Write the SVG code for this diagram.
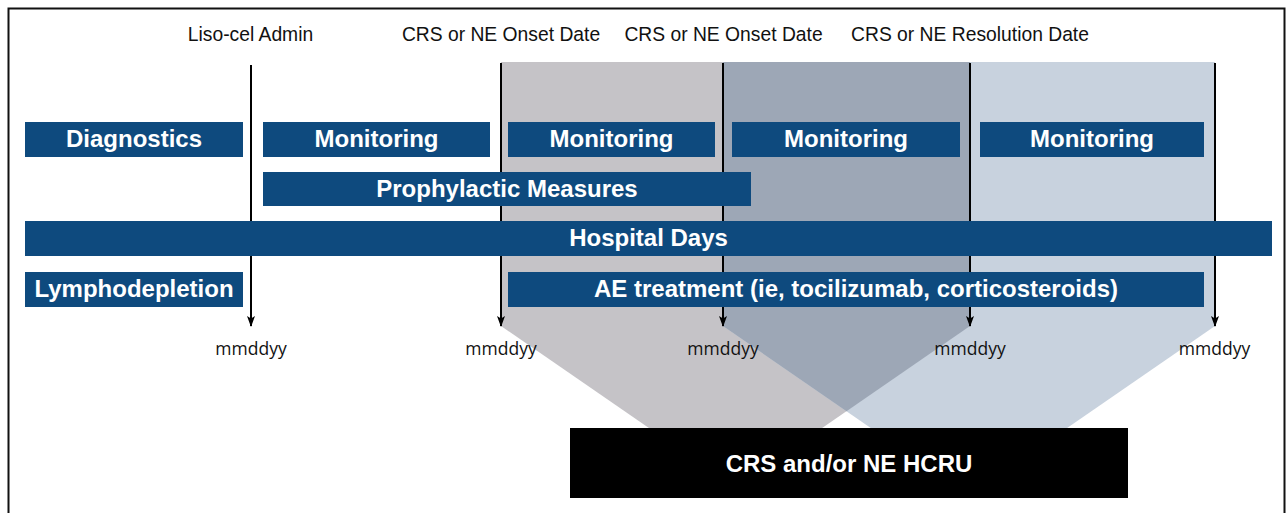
<svg xmlns="http://www.w3.org/2000/svg" width="1287" height="513" viewBox="0 0 1287 513">
  <style>
    .bar { fill: #0E4A7E; }
    .bl { font-family: "Liberation Sans", Arial, sans-serif; font-weight: bold; font-size: 24px; fill: #ffffff; text-anchor: middle; }
    .top { font-family: "Liberation Sans", Arial, sans-serif; font-size: 19.3px; fill: #111111; text-anchor: middle; }
    .date { font-family: "Open Sans", "DejaVu Sans", sans-serif; font-size: 17.5px; fill: #111111; text-anchor: middle; }
    .vline { stroke: #000000; stroke-width: 2; fill: none; }
  </style>
  <defs>
    <marker id="ah" markerUnits="userSpaceOnUse" markerWidth="11" markerHeight="8" viewBox="0 0 11 8" refX="10" refY="4" orient="auto">
      <path d="M0,0 L2.5,4 L0,8 L11,4 Z" fill="#000000"/>
    </marker>
  </defs>
  <rect x="0" y="0" width="1287" height="513" fill="#ffffff"/>
  <rect x="8.5" y="8.5" width="1276" height="520" fill="none" stroke="#111111" stroke-width="2"/>

  <g id="periods">
    <polygon points="501,62 970,62 970,326 735.5,487.8 501,326" fill="#C5C3C7"/>
    <polygon points="723,62 1215,62 1215,326 969,495.7 723,326" fill="#C8D2DE"/>
    <polygon points="723,62 970,62 970,326 846.5,411.2 723,326" fill="#9DA7B6"/>
  </g>

  <g id="connectors">
    <line class="vline" x1="251" y1="65" x2="251" y2="326" marker-end="url(#ah)"/>
    <line class="vline" x1="501" y1="63" x2="501" y2="326" marker-end="url(#ah)"/>
    <line class="vline" x1="723" y1="63" x2="723" y2="326" marker-end="url(#ah)"/>
    <line class="vline" x1="970" y1="63" x2="970" y2="326" marker-end="url(#ah)"/>
    <line class="vline" x1="1215" y1="63" x2="1215" y2="326" marker-end="url(#ah)"/>
  </g>

  <g id="labels-top">
    <text class="top" x="250.5" y="41">Liso-cel Admin</text>
    <text class="top" x="501" y="41">CRS or NE Onset Date</text>
    <text class="top" x="723.5" y="41">CRS or NE Onset Date</text>
    <text class="top" x="970" y="41">CRS or NE Resolution Date</text>
  </g>

  <g id="diagnostics"><rect class="bar" x="25" y="122" width="218" height="35"/><text class="bl" x="134" y="147">Diagnostics</text></g>
  <g id="monitoring1"><rect class="bar" x="263" y="122" width="227" height="35"/><text class="bl" x="376.5" y="147">Monitoring</text></g>
  <g id="monitoring2"><rect class="bar" x="508" y="122" width="207" height="35"/><text class="bl" x="611.5" y="147">Monitoring</text></g>
  <g id="monitoring3"><rect class="bar" x="732" y="122" width="228" height="35"/><text class="bl" x="846" y="147">Monitoring</text></g>
  <g id="monitoring4"><rect class="bar" x="980" y="122" width="224" height="35"/><text class="bl" x="1092" y="147">Monitoring</text></g>
  <g id="prophylactic"><rect class="bar" x="263" y="172" width="488" height="34"/><text class="bl" x="507" y="197">Prophylactic Measures</text></g>
  <g id="hospital"><rect class="bar" x="25" y="221" width="1247" height="35"/><text class="bl" x="648.5" y="246">Hospital Days</text></g>
  <g id="lymphodepletion"><rect class="bar" x="25" y="272" width="218" height="35"/><text class="bl" x="134" y="297">Lymphodepletion</text></g>
  <g id="ae-treatment"><rect class="bar" x="508" y="272" width="696" height="35"/><text class="bl" x="856" y="297">AE treatment (ie, tocilizumab, corticosteroids)</text></g>

  <g id="dates">
    <text class="date" x="251" y="355">mmddyy</text>
    <text class="date" x="501" y="355">mmddyy</text>
    <text class="date" x="723" y="355">mmddyy</text>
    <text class="date" x="970" y="355">mmddyy</text>
    <text class="date" x="1214.5" y="355">mmddyy</text>
  </g>

  <g id="hcru">
    <rect x="570" y="428" width="558" height="70" fill="#000000"/>
    <text class="bl" x="849" y="472">CRS and/or NE HCRU</text>
  </g>
</svg>
